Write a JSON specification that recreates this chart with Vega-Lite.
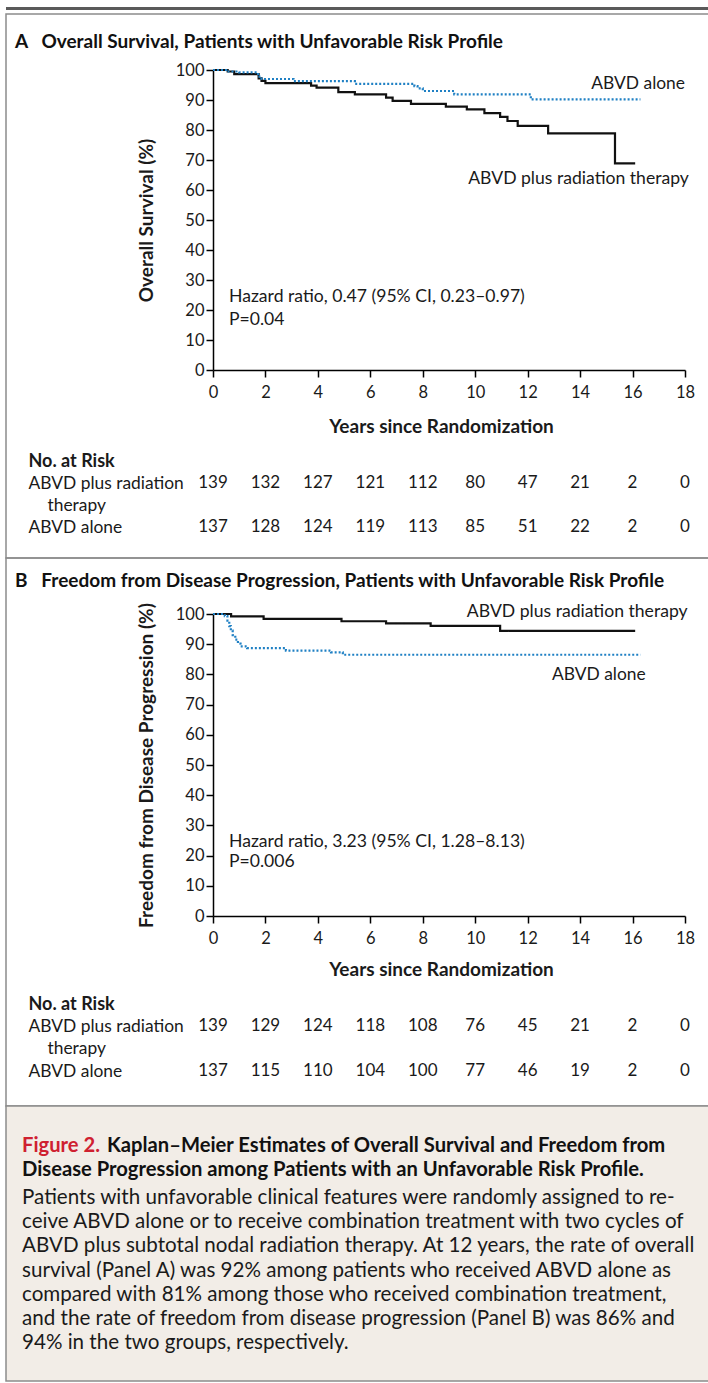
{
  "$schema": "https://vega.github.io/schema/vega-lite/v6.json",
  "background": "white",
  "padding": {"left": 5, "top": 7, "right": -6.5, "bottom": 0},
  "autosize": {"type": "pad"},
  "bounds": "flush",
  "spacing": 0,
  "config": {
    "view": {"stroke": null},
    "font": "Lato",
    "text": {"font": "Lato", "fontSize": 17.5, "color": "#1a1a1a"},
    "axis": {"labelFont": "Lato", "titleFont": "Lato", "labelColor": "#1a1a1a", "titleColor": "#1a1a1a", "domainColor": "#000", "tickColor": "#000", "domainWidth": 1.5, "tickWidth": 1.5, "grid": false, "labelFontSize": 16.5, "titleFontSize": 19, "titleFontWeight": "bold"},
    "title": {"font": "Lato", "fontSize": 19, "fontWeight": "bold", "color": "#111", "anchor": "start", "frame": "group"}
  },
  "datasets": {
    "kmA": [
      {"group": "ABVD plus radiation therapy", "t": 0, "s": 100},
      {"group": "ABVD plus radiation therapy", "t": 0.56, "s": 99.5},
      {"group": "ABVD plus radiation therapy", "t": 0.81, "s": 98.6},
      {"group": "ABVD plus radiation therapy", "t": 1.74, "s": 97.2},
      {"group": "ABVD plus radiation therapy", "t": 1.85, "s": 96.4},
      {"group": "ABVD plus radiation therapy", "t": 2.0, "s": 95.6},
      {"group": "ABVD plus radiation therapy", "t": 3.74, "s": 94.8},
      {"group": "ABVD plus radiation therapy", "t": 3.95, "s": 94.1},
      {"group": "ABVD plus radiation therapy", "t": 4.78, "s": 92.6},
      {"group": "ABVD plus radiation therapy", "t": 5.41, "s": 91.9},
      {"group": "ABVD plus radiation therapy", "t": 6.6, "s": 90.8},
      {"group": "ABVD plus radiation therapy", "t": 6.85, "s": 89.7},
      {"group": "ABVD plus radiation therapy", "t": 7.55, "s": 88.7},
      {"group": "ABVD plus radiation therapy", "t": 8.88, "s": 87.8},
      {"group": "ABVD plus radiation therapy", "t": 9.68, "s": 86.9},
      {"group": "ABVD plus radiation therapy", "t": 10.35, "s": 85.6},
      {"group": "ABVD plus radiation therapy", "t": 10.95, "s": 84.4},
      {"group": "ABVD plus radiation therapy", "t": 11.23, "s": 83.0},
      {"group": "ABVD plus radiation therapy", "t": 11.62, "s": 81.4},
      {"group": "ABVD plus radiation therapy", "t": 12.78, "s": 78.9},
      {"group": "ABVD plus radiation therapy", "t": 15.33, "s": 68.9},
      {"group": "ABVD plus radiation therapy", "t": 16.1, "s": 68.9},
      {"group": "ABVD alone", "t": 0, "s": 100},
      {"group": "ABVD alone", "t": 0.5, "s": 99.5},
      {"group": "ABVD alone", "t": 1.0, "s": 99.2},
      {"group": "ABVD alone", "t": 1.72, "s": 97.8},
      {"group": "ABVD alone", "t": 1.85, "s": 97.0},
      {"group": "ABVD alone", "t": 3.07, "s": 96.3},
      {"group": "ABVD alone", "t": 5.41, "s": 95.4},
      {"group": "ABVD alone", "t": 7.68, "s": 94.6},
      {"group": "ABVD alone", "t": 7.8, "s": 93.9},
      {"group": "ABVD alone", "t": 8.0, "s": 93.0},
      {"group": "ABVD alone", "t": 9.2, "s": 91.9},
      {"group": "ABVD alone", "t": 12.12, "s": 90.2},
      {"group": "ABVD alone", "t": 16.3, "s": 90.2}
    ],
    "kmB": [
      {"group": "ABVD plus radiation therapy", "t": 0, "s": 100},
      {"group": "ABVD plus radiation therapy", "t": 0.69, "s": 99.2},
      {"group": "ABVD plus radiation therapy", "t": 1.93, "s": 98.4},
      {"group": "ABVD plus radiation therapy", "t": 4.9, "s": 97.6},
      {"group": "ABVD plus radiation therapy", "t": 6.6, "s": 96.9},
      {"group": "ABVD plus radiation therapy", "t": 8.3, "s": 96.1},
      {"group": "ABVD plus radiation therapy", "t": 10.95, "s": 94.4},
      {"group": "ABVD plus radiation therapy", "t": 16.1, "s": 94.4},
      {"group": "ABVD alone", "t": 0, "s": 100},
      {"group": "ABVD alone", "t": 0.45, "s": 99.3},
      {"group": "ABVD alone", "t": 0.55, "s": 97.8},
      {"group": "ABVD alone", "t": 0.62, "s": 96.0},
      {"group": "ABVD alone", "t": 0.68, "s": 94.5},
      {"group": "ABVD alone", "t": 0.75, "s": 93.0},
      {"group": "ABVD alone", "t": 0.85, "s": 91.5},
      {"group": "ABVD alone", "t": 0.95, "s": 90.2},
      {"group": "ABVD alone", "t": 1.05, "s": 89.3},
      {"group": "ABVD alone", "t": 1.3, "s": 88.7},
      {"group": "ABVD alone", "t": 2.78, "s": 87.9},
      {"group": "ABVD alone", "t": 4.5, "s": 87.3},
      {"group": "ABVD alone", "t": 4.95, "s": 86.5},
      {"group": "ABVD alone", "t": 16.3, "s": 86.5}
    ],
    "riskA": [
      {"group": "ABVD plus radiation therapy", "t": 0, "n": 139},
      {"group": "ABVD plus radiation therapy", "t": 2, "n": 132},
      {"group": "ABVD plus radiation therapy", "t": 4, "n": 127},
      {"group": "ABVD plus radiation therapy", "t": 6, "n": 121},
      {"group": "ABVD plus radiation therapy", "t": 8, "n": 112},
      {"group": "ABVD plus radiation therapy", "t": 10, "n": 80},
      {"group": "ABVD plus radiation therapy", "t": 12, "n": 47},
      {"group": "ABVD plus radiation therapy", "t": 14, "n": 21},
      {"group": "ABVD plus radiation therapy", "t": 16, "n": 2},
      {"group": "ABVD plus radiation therapy", "t": 18, "n": 0},
      {"group": "ABVD alone", "t": 0, "n": 137},
      {"group": "ABVD alone", "t": 2, "n": 128},
      {"group": "ABVD alone", "t": 4, "n": 124},
      {"group": "ABVD alone", "t": 6, "n": 119},
      {"group": "ABVD alone", "t": 8, "n": 113},
      {"group": "ABVD alone", "t": 10, "n": 85},
      {"group": "ABVD alone", "t": 12, "n": 51},
      {"group": "ABVD alone", "t": 14, "n": 22},
      {"group": "ABVD alone", "t": 16, "n": 2},
      {"group": "ABVD alone", "t": 18, "n": 0}
    ],
    "riskB": [
      {"group": "ABVD plus radiation therapy", "t": 0, "n": 139},
      {"group": "ABVD plus radiation therapy", "t": 2, "n": 129},
      {"group": "ABVD plus radiation therapy", "t": 4, "n": 124},
      {"group": "ABVD plus radiation therapy", "t": 6, "n": 118},
      {"group": "ABVD plus radiation therapy", "t": 8, "n": 108},
      {"group": "ABVD plus radiation therapy", "t": 10, "n": 76},
      {"group": "ABVD plus radiation therapy", "t": 12, "n": 45},
      {"group": "ABVD plus radiation therapy", "t": 14, "n": 21},
      {"group": "ABVD plus radiation therapy", "t": 16, "n": 2},
      {"group": "ABVD plus radiation therapy", "t": 18, "n": 0},
      {"group": "ABVD alone", "t": 0, "n": 137},
      {"group": "ABVD alone", "t": 2, "n": 115},
      {"group": "ABVD alone", "t": 4, "n": 110},
      {"group": "ABVD alone", "t": 6, "n": 104},
      {"group": "ABVD alone", "t": 8, "n": 100},
      {"group": "ABVD alone", "t": 10, "n": 77},
      {"group": "ABVD alone", "t": 12, "n": 46},
      {"group": "ABVD alone", "t": 14, "n": 19},
      {"group": "ABVD alone", "t": 16, "n": 2},
      {"group": "ABVD alone", "t": 18, "n": 0}
    ],
    "caption": [
      {"line": 0, "part": "label", "text": "Figure 2."},
      {"line": 0, "part": "head0", "text": "Kaplan–Meier Estimates of Overall Survival and Freedom from"},
      {"line": 1, "part": "head", "text": "Disease Progression among Patients with an Unfavorable Risk Profile."},
      {"line": 2, "part": "body", "text": "Patients with unfavorable clinical features were randomly assigned to re-"},
      {"line": 3, "part": "body", "text": "ceive ABVD alone or to receive combination treatment with two cycles of"},
      {"line": 4, "part": "body", "text": "ABVD plus subtotal nodal radiation therapy. At 12 years, the rate of overall"},
      {"line": 5, "part": "body", "text": "survival (Panel A) was 92% among patients who received ABVD alone as"},
      {"line": 6, "part": "body", "text": "compared with 81% among those who received combination treatment,"},
      {"line": 7, "part": "body", "text": "and the rate of freedom from disease progression (Panel B) was 86% and"},
      {"line": 8, "part": "body", "text": "94% in the two groups, respectively."}
    ]
  },
  "vconcat": [
    {
      "width": 708, "height": 3,
      "view": {"fill": "#5a5a5a", "stroke": null},
      "data": {"values": []},
      "mark": "rule",
      "encoding": {}
    },
    {
      "width": 708, "height": 4,
      "data": {"values": []},
      "mark": "rule",
      "encoding": {}
    },
    {
      "width": 708, "height": 544,
      "view": {"stroke": "#8c8c8c", "strokeWidth": 1.5},
      "title": {"text": "A\u00a0\u00a0\u00a0Overall Survival, Patients with Unfavorable Risk Profile", "offset": -47, "baseline": "middle", "dx": 9},
      "layer": [
        {
          "layer": [
            {
              "data": {"name": "kmA"},
              "mark": {"type": "line", "interpolate": "step-after", "strokeWidth": 2.2},
              "encoding": {
                "x": {"field": "t", "type": "quantitative", "scale": {"domain": [0, 18], "range": [207, 679]},
                  "axis": {"orient": "bottom", "offset": -188, "values": [0, 2, 4, 6, 8, 10, 12, 14, 16, 18], "title": "Years since Randomization", "titlePadding": 17, "titleX": 435, "tickSize": 7, "labelPadding": 7, "labelFlush": false}},
                "y": {"field": "s", "type": "quantitative", "scale": {"domain": [0, 100], "range": [356, 56]},
                  "axis": {"orient": "left", "offset": -207, "values": [0, 10, 20, 30, 40, 50, 60, 70, 80, 90, 100], "title": "Overall Survival (%)", "titlePadding": 19, "tickSize": 7, "labelPadding": 2}},
                "color": {"field": "group", "type": "nominal", "scale": {"domain": ["ABVD plus radiation therapy", "ABVD alone"], "range": ["#111111", "#1f80c4"]}, "legend": null},
                "strokeDash": {"field": "group", "type": "nominal", "scale": {"domain": ["ABVD plus radiation therapy", "ABVD alone"], "range": [[1, 0], [2, 2]]}, "legend": null}
              }
            },
            {
              "data": {"values": [{}]},
              "mark": {"type": "text", "align": "right", "baseline": "middle", "fontSize": 17.4},
              "encoding": {"x": {"datum": 18}, "y": {"datum": 95.3}, "text": {"value": "ABVD alone"}}
            },
            {
              "data": {"values": [{}]},
              "mark": {"type": "text", "align": "right", "baseline": "middle", "fontSize": 17.6},
              "encoding": {"x": {"datum": 18.15}, "y": {"datum": 63.7}, "text": {"value": "ABVD plus radiation therapy"}}
            },
            {
              "data": {"values": [{}]},
              "mark": {"type": "text", "align": "left", "baseline": "middle", "fontSize": 17.6},
              "encoding": {"x": {"datum": 0.61}, "y": {"datum": 24.3}, "text": {"value": "Hazard ratio, 0.47 (95% CI, 0.23–0.97)"}}
            },
            {
              "data": {"values": [{}]},
              "mark": {"type": "text", "align": "left", "baseline": "middle", "fontSize": 17.6},
              "encoding": {"x": {"datum": 0.61}, "y": {"datum": 16.7}, "text": {"value": "P=0.04"}}
            }
          ]
        },
        {
          "data": {"name": "riskA"},
          "mark": {"type": "text", "align": "center", "baseline": "middle", "fontSize": 17},
          "encoding": {
            "x": {"field": "t", "type": "quantitative"},
            "y": {"field": "group", "type": "nominal",
              "scale": {"type": "point", "domain": ["No. at Risk", "ABVD plus radiation therapy", "therapy", "ABVD alone"], "range": [447, 513], "padding": 0},
              "axis": {"orient": "left", "offset": -22, "domain": false, "ticks": false, "labelAlign": "left", "labelBaseline": "middle", "labelLimit": 300, "title": null,
                "labelPadding": {"condition": {"test": "datum.value === 'therapy'", "value": -19}, "value": 0},
                "labelFontSize": {"condition": {"test": "datum.value === 'No. at Risk'", "value": 18}, "value": 17.4},
                "labelFontWeight": {"condition": {"test": "datum.value === 'No. at Risk'", "value": "bold"}, "value": "normal"},
                "labelExpr": "datum.value === 'ABVD plus radiation therapy' ? 'ABVD plus radiation' : datum.value"}},
            "text": {"field": "n", "type": "quantitative"}
          }
        }
      ],
      "resolve": {"scale": {"y": "independent"}, "axis": {"y": "independent"}}
    },
    {
      "width": 708, "height": 548,
      "view": {"stroke": "#8c8c8c", "strokeWidth": 1.5},
      "title": {"text": "B\u00a0\u00a0\u00a0Freedom from Disease Progression, Patients with Unfavorable Risk Profile", "offset": -42, "baseline": "middle", "dx": 9},
      "layer": [
        {
          "layer": [
            {
              "data": {"name": "kmB"},
              "mark": {"type": "line", "interpolate": "step-after", "strokeWidth": 2.2},
              "encoding": {
                "x": {"field": "t", "type": "quantitative", "scale": {"domain": [0, 18], "range": [207, 679]},
                  "axis": {"orient": "bottom", "offset": -190, "values": [0, 2, 4, 6, 8, 10, 12, 14, 16, 18], "title": "Years since Randomization", "titlePadding": 14, "titleX": 435, "tickSize": 7, "labelPadding": 7, "labelFlush": false}},
                "y": {"field": "s", "type": "quantitative", "scale": {"domain": [0, 100], "range": [358, 56]},
                  "axis": {"orient": "left", "offset": -207, "values": [0, 10, 20, 30, 40, 50, 60, 70, 80, 90, 100], "title": "Freedom from Disease Progression (%)", "titlePadding": 19, "tickSize": 7, "labelPadding": 2}},
                "color": {"field": "group", "type": "nominal", "scale": {"domain": ["ABVD plus radiation therapy", "ABVD alone"], "range": ["#111111", "#1f80c4"]}, "legend": null},
                "strokeDash": {"field": "group", "type": "nominal", "scale": {"domain": ["ABVD plus radiation therapy", "ABVD alone"], "range": [[1, 0], [2, 2]]}, "legend": null}
              }
            },
            {
              "data": {"values": [{}]},
              "mark": {"type": "text", "align": "right", "baseline": "middle", "fontSize": 17.6},
              "encoding": {"x": {"datum": 18.1}, "y": {"datum": 100.7}, "text": {"value": "ABVD plus radiation therapy"}}
            },
            {
              "data": {"values": [{}]},
              "mark": {"type": "text", "align": "right", "baseline": "middle", "fontSize": 17.4},
              "encoding": {"x": {"datum": 16.5}, "y": {"datum": 79.8}, "text": {"value": "ABVD alone"}}
            },
            {
              "data": {"values": [{}]},
              "mark": {"type": "text", "align": "left", "baseline": "middle", "fontSize": 17.6},
              "encoding": {"x": {"datum": 0.61}, "y": {"datum": 24.5}, "text": {"value": "Hazard ratio, 3.23 (95% CI, 1.28–8.13)"}}
            },
            {
              "data": {"values": [{}]},
              "mark": {"type": "text", "align": "left", "baseline": "middle", "fontSize": 17.6},
              "encoding": {"x": {"datum": 0.61}, "y": {"datum": 17.9}, "text": {"value": "P=0.006"}}
            }
          ]
        },
        {
          "data": {"name": "riskB"},
          "mark": {"type": "text", "align": "center", "baseline": "middle", "fontSize": 17},
          "encoding": {
            "x": {"field": "t", "type": "quantitative"},
            "y": {"field": "group", "type": "nominal",
              "scale": {"type": "point", "domain": ["No. at Risk", "ABVD plus radiation therapy", "therapy", "ABVD alone"], "range": [446, 513], "padding": 0},
              "axis": {"orient": "left", "offset": -22, "domain": false, "ticks": false, "labelAlign": "left", "labelBaseline": "middle", "labelLimit": 300, "title": null,
                "labelPadding": {"condition": {"test": "datum.value === 'therapy'", "value": -19}, "value": 0},
                "labelFontSize": {"condition": {"test": "datum.value === 'No. at Risk'", "value": 18}, "value": 17.4},
                "labelFontWeight": {"condition": {"test": "datum.value === 'No. at Risk'", "value": "bold"}, "value": "normal"},
                "labelExpr": "datum.value === 'ABVD plus radiation therapy' ? 'ABVD plus radiation' : datum.value"}},
            "text": {"field": "n", "type": "quantitative"}
          }
        }
      ],
      "resolve": {"scale": {"y": "independent"}, "axis": {"y": "independent"}}
    },
    {
      "width": 708, "height": 275,
      "view": {"fill": "#f2ede7", "stroke": "#8c8c8c", "strokeWidth": 1.5},
      "data": {"name": "caption"},
      "encoding": {
        "x": {"datum": 0, "type": "quantitative", "scale": {"domain": [0, 1], "range": [16, 690]}, "axis": null},
        "y": {"field": "line", "type": "ordinal", "scale": {"type": "point", "domain": [0, 1, 2, 3, 4, 5, 6, 7, 8], "range": [43.7, 237], "padding": 0}, "axis": null},
        "text": {"field": "text", "type": "nominal"}
      },
      "layer": [
        {"transform": [{"filter": "datum.part === 'label'"}], "mark": {"type": "text", "align": "left", "baseline": "middle", "fontSize": 20.2, "fontWeight": "bold", "color": "#cf2030", "dy": -4}},
        {"transform": [{"filter": "datum.part === 'head0'"}], "mark": {"type": "text", "align": "left", "baseline": "middle", "fontSize": 20.2, "fontWeight": "bold", "color": "#111111", "dx": 85, "dy": -4}},
        {"transform": [{"filter": "datum.part === 'head'"}], "mark": {"type": "text", "align": "left", "baseline": "middle", "fontSize": 20.2, "fontWeight": "bold", "color": "#111111", "dy": -4}},
        {"transform": [{"filter": "datum.part === 'body'"}], "mark": {"type": "text", "align": "left", "baseline": "middle", "fontSize": 20.6, "color": "#1a1a1a"}}
      ]
    }
  ]
}
